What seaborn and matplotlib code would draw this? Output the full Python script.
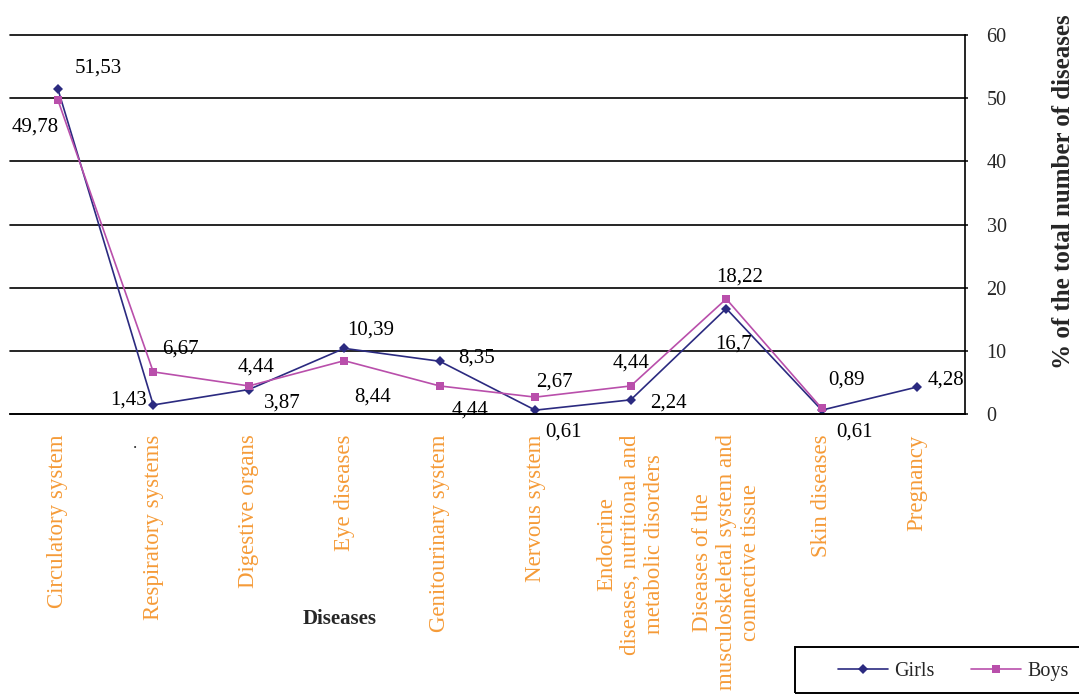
import numpy as np
import pandas as pd
import matplotlib
matplotlib.use("Agg")
import matplotlib.pyplot as plt
from matplotlib.patches import Rectangle
import seaborn as sns

categories = [
    "Circulatory system",
    "Respiratory systems",
    "Digestive organs",
    "Eye diseases",
    "Genitourinary system",
    "Nervous system",
    "Endocrine\ndiseases, nutritional and\nmetabolic disorders",
    "Diseases of the\nmusculoskeletal system and\nconnective tissue",
    "Skin diseases",
    "Pregnancy",
]
girls = [51.53, 1.43, 3.87, 10.39, 8.35, 0.61, 2.24, 16.7, 0.61, 4.28]
boys = [49.78, 6.67, 4.44, 8.44, 4.44, 2.67, 4.44, 18.22, 0.89]  # no pregnancy
y_ticks = [0, 10, 20, 30, 40, 50, 60]

# label offsets in pixels (dx right, dy down) relative to the marker
girls_off = [(41, -20), (-25, -5), (34, 13), (26, -18), (37, -3),
             (28, 22), (38, 3), (7, 36), (33, 22), (29, -7)]
boys_off = [(-23, 27), (27, -23), (7, -19), (28, 36), (30, 24),
            (19, -15), (0, -23), (13, -22), (25, -28)]

GIRLS_C = "#2b2a80"
BOYS_C = "#b94fab"
ORANGE = "#f59b38"

sns.set_style("white")
plt.rcParams["font.family"] = ["Liberation Serif", "DejaVu Serif"]

rows = [("Girls", i, v) for i, v in enumerate(girls)] + \
       [("Boys", i, v) for i, v in enumerate(boys)]
df = pd.DataFrame(rows, columns=["sex", "pos", "value"])

W, H = 1079, 698
fig = plt.figure(figsize=(W / 100, H / 100), dpi=100)
ax = fig.add_axes([10 / W, 1 - 414 / H, 955 / W, 379 / H])

ax.set_axisbelow(True)
ax.yaxis.grid(True, color="black", lw=1.2)

sns.lineplot(data=df, x="pos", y="value", hue="sex", style="sex",
             hue_order=["Girls", "Boys"], style_order=["Girls", "Boys"],
             palette={"Girls": GIRLS_C, "Boys": BOYS_C},
             markers={"Girls": "D", "Boys": "s"}, dashes=False,
             lw=1.2, markersize=6, markeredgewidth=0, ax=ax, clip_on=False)
# diamond a bit smaller than the square
for line in ax.get_lines():
    if line.get_marker() == "D":
        line.set_markersize(5)

handles, labels = ax.get_legend_handles_labels()
ax.get_legend().remove()

def fmt(v):
    return format(v, "g").replace(".", ",")

for vals, offs in ((girls, girls_off), (boys, boys_off)):
    for i, (v, (dx, dy)) in enumerate(zip(vals, offs)):
        ax.annotate(fmt(v), xy=(i, v), xytext=(dx * 0.72, -dy * 0.72),
                    textcoords="offset points", ha="center", va="center",
                    fontsize=15, color="black", annotation_clip=False)

ax.set_xlim(-0.5, len(categories) - 0.5)
ax.set_ylim(0, 60)
ax.set_xticks(range(len(categories)))
ax.set_xticks(np.arange(-0.5, len(categories), 1.0), minor=True)
ax.set_xticklabels(categories, rotation=90, color=ORANGE, fontsize=16.5,
                   ha="center", va="top", multialignment="center")
ax.tick_params(axis="x", which="both", direction="out", length=4.5,
               width=1.1, color="black", pad=10)

ax.yaxis.tick_right()
ax.set_yticks(y_ticks)
ax.set_yticklabels([str(t) for t in y_ticks], fontsize=14.5)
ax.tick_params(axis="y", direction="out", length=2.5, width=1.1,
               color="black", pad=13)
for gl in ax.get_ygridlines():
    gl.set_clip_on(False)

ax.set_xlabel("")
ax.set_ylabel("")
for s in ("left", "top"):
    ax.spines[s].set_visible(False)
for s in ("right", "bottom"):
    ax.spines[s].set_color("black")
    ax.spines[s].set_linewidth(1.2)

fig.text(1063 / W, 1 - 192 / H, "% of the total number of diseases",
         rotation=90, ha="center", va="center", fontsize=18,
         fontweight="bold")
fig.text(340 / W, 1 - 619 / H, "Diseases", ha="center", va="center",
         fontsize=15, fontweight="bold")
fig.text(135 / W, 1 - 448 / H, ".", ha="center", va="baseline", fontsize=12)

fig.patches.append(Rectangle((795 / W, 1 - 693 / H), 330 / W, 46 / H,
                             transform=fig.transFigure, fill=False,
                             edgecolor="black", lw=1.4))
fig.legend(handles, labels, loc="center left",
           bbox_to_anchor=(838 / W, 1 - 671 / H), ncol=2, frameon=False,
           fontsize=14.5, handlelength=2.5, handletextpad=0.3,
           columnspacing=1.8, borderpad=0, borderaxespad=0)

fig.savefig("out.png", dpi=100)
